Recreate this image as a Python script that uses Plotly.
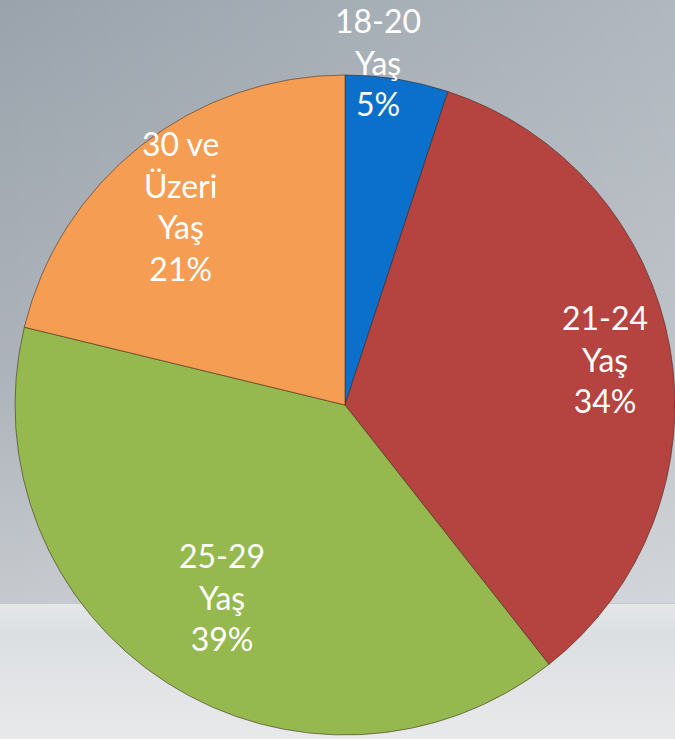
import math
import base64
import plotly.graph_objects as go

# ---- data ----
categories = ["18-20 Yaş", "21-24 Yaş", "25-29 Yaş", "30 ve Üzeri Yaş"]
label_lines = ["18-20<br>Yaş", "21-24<br>Yaş", "25-29<br>Yaş", "30 ve<br>Üzeri<br>Yaş"]
values = [5, 34, 39, 21]
pct_labels = ["5%", "34%", "39%", "21%"]

# ---- styles ----
colors = ["#0a70cc", "#b5433f", "#95b84f", "#f59d52"]
label_r = [1.045, 0.80, 0.69, 0.78]      # radial position of label (fraction of radius)
label_dtheta = [-3.6, 0.0, 0.0, -1.3]    # angular nudge of label (deg)

W, H = 675, 739
CX, CY, R = 345, 405, 330  # pixel geometry of pie

bg_svg = f"""<svg xmlns='http://www.w3.org/2000/svg' width='{W}' height='{H}' viewBox='0 0 {W} {H}' preserveAspectRatio='none'>
<defs>
<linearGradient id='v' x1='0' y1='0' x2='0' y2='1'>
<stop offset='0' stop-color='#9aa3ac'/>
<stop offset='0.5' stop-color='#adb3ba'/>
<stop offset='0.817' stop-color='#c6cacf'/>
<stop offset='0.818' stop-color='#e4e6e8'/>
<stop offset='0.86' stop-color='#dcdfe2'/>
<stop offset='1' stop-color='#e8e9eb'/>
</linearGradient>
<linearGradient id='h' x1='0' y1='0' x2='1' y2='0'>
<stop offset='0' stop-color='#ffffff' stop-opacity='0'/>
<stop offset='1' stop-color='#ffffff' stop-opacity='0.22'/>
</linearGradient>
</defs>
<rect x='0' y='0' width='{W}' height='{H}' fill='url(#v)'/>
<rect x='0' y='0' width='{W}' height='{int(H*0.817)}' fill='url(#h)'/>
</svg>"""
bg_uri = "data:image/svg+xml;base64," + base64.b64encode(bg_svg.encode("utf-8")).decode("ascii")

fig = go.Figure()
fig.add_trace(go.Pie(
    labels=categories,
    values=values,
    sort=False,
    direction="clockwise",
    rotation=0,
    textinfo="none",
    hoverinfo="label+percent",
    marker=dict(colors=colors, line=dict(color="rgba(60,40,30,0.55)", width=1)),
    domain=dict(x=[(CX - R) / W, min(1.0, (CX + R) / W)],
                y=[(H - (CY + R)) / H, (H - (CY - R)) / H]),
    showlegend=False,
))

# labels positioned from slice mid-angles computed from data
total = sum(values)
cum = 0.0
annotations = []
for i, v in enumerate(values):
    mid = (cum + v / 2) / total * 360.0 + label_dtheta[i]
    cum += v
    th = math.radians(mid)
    px = CX + R * label_r[i] * math.sin(th)
    py = CY - R * label_r[i] * math.cos(th)
    annotations.append(dict(
        x=px / W, y=1 - py / H, xref="paper", yref="paper",
        text=label_lines[i] + "<br>" + pct_labels[i],
        showarrow=False, xanchor="center", yanchor="middle", align="center",
        font=dict(family="Lato, 'Open Sans', sans-serif", size=32, color="white"),
    ))

fig.update_layout(
    width=W, height=H,
    margin=dict(l=0, r=0, t=0, b=0),
    paper_bgcolor="#b0b6bc",
    plot_bgcolor="rgba(0,0,0,0)",
    images=[dict(source=bg_uri, xref="paper", yref="paper", x=0, y=1,
                 sizex=1, sizey=1, xanchor="left", yanchor="top",
                 sizing="stretch", layer="below")],
    annotations=annotations,
)

fig.write_html(
    "out.html",
    config={"displayModeBar": False},
    post_script="document.body.style.margin='0';document.body.style.overflow='hidden';",
)
